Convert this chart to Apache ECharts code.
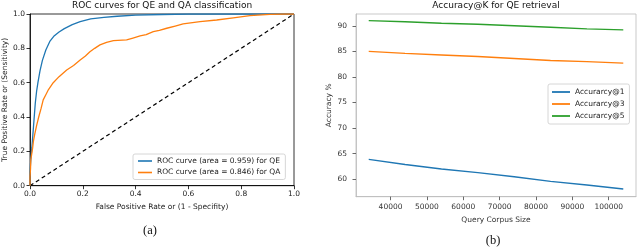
<!DOCTYPE html>
<html>
<head>
<meta charset="utf-8">
<script src="https://cdn.jsdelivr.net/npm/echarts@6/dist/echarts.min.js"></script>
<style>
html,body{margin:0;padding:0;background:#fff;}
#c{width:640px;height:250px;}
</style>
</head>
<body>
<div id="c"></div>
<script>
// ROC data (left panel)
const qeFpr = [0,0,0.003,0.007,0.011,0.015,0.02,0.025,0.03,0.038,0.047,0.06,0.075,0.09,0.11,0.13,0.16,0.19,0.23,0.28,0.33,0.4,0.5,0.6,1.0];
const qeTpr = [0,0.08,0.15,0.22,0.3,0.38,0.48,0.55,0.6,0.67,0.73,0.79,0.84,0.87,0.895,0.915,0.938,0.955,0.972,0.98,0.987,0.993,0.997,1.0,1.0];
const qaFpr = [0,0,0.002,0.003,0.006,0.01,0.013,0.018,0.025,0.033,0.042,0.05,0.06,0.07,0.088,0.11,0.139,0.165,0.19,0.21,0.227,0.245,0.265,0.29,0.316,0.366,0.39,0.417,0.44,0.467,0.49,0.518,0.55,0.58,0.644,0.707,0.77,0.833,0.909,0.96,1.0];
const qaTpr = [0,0.05,0.1,0.15,0.18,0.22,0.26,0.3,0.35,0.4,0.45,0.5,0.53,0.56,0.6,0.635,0.674,0.7,0.732,0.755,0.78,0.8,0.82,0.835,0.845,0.849,0.86,0.872,0.88,0.897,0.905,0.917,0.93,0.942,0.955,0.965,0.978,0.99,0.998,1.0,1.0];
const rocNames = ['ROC curve (area = 0.959) for QE', 'ROC curve (area = 0.846) for QA'];

// Accuracy@K data (right panel)
const corpusSize = [34000, 44000, 54000, 64000, 74000, 84000, 94000, 104000];
const acc1 = [63.9, 62.9, 62.0, 61.3, 60.5, 59.6, 58.9, 58.1];
const acc3 = [85.0, 84.6, 84.3, 84.0, 83.6, 83.2, 83.0, 82.7];
const acc5 = [91.0, 90.8, 90.5, 90.3, 90.0, 89.7, 89.4, 89.2];
const accNames = ['Accurarcy@1', 'Accurarcy@3', 'Accurarcy@5'];
const xTicksB = [40000, 50000, 60000, 70000, 80000, 90000, 100000];
const yTicksB = [60, 65, 70, 75, 80, 85, 90];

const zip = (a, b) => a.map((v, i) => [v, b[i]]);
const FONT = 'DejaVu Sans';
const C = ['#1f77b4', '#ff7f0e', '#2ca02c'];

const chart = echarts.init(document.getElementById('c'), null, {renderer: 'canvas'});
const tickStyle = {show: true, inside: false, length: 3.5, lineStyle: {color: '#000', width: 0.8}};
const labelStyle = {fontFamily: FONT, fontSize: 7.5, color: '#222'};

chart.setOption({
  animation: false,
  backgroundColor: '#fff',
  title: [
    {text: 'ROC curves for QE and QA classification', left: 162, top: 1, textAlign: 'center', padding: 0,
     textStyle: {fontFamily: FONT, fontSize: 9, fontWeight: 'normal', color: '#111'}},
    {text: 'Accuracy@K for QE retrieval', left: 496, top: 1, textAlign: 'center', padding: 0,
     textStyle: {fontFamily: FONT, fontSize: 9, fontWeight: 'normal', color: '#111'}},
    {text: '(a)', left: 150, top: 224, textAlign: 'center', padding: 0,
     textStyle: {fontFamily: 'Liberation Serif', fontSize: 12.5, fontWeight: 'normal', color: '#111'}},
    {text: '(b)', left: 493, top: 234, textAlign: 'center', padding: 0,
     textStyle: {fontFamily: 'Liberation Serif', fontSize: 12.5, fontWeight: 'normal', color: '#111'}}
  ],
  legend: [
    {data: rocNames, orient: 'vertical', left: 133, top: 154, padding: [3, 5, 3, 5], itemGap: 3.5,
     itemWidth: 14, itemHeight: 1.6, icon: 'rect', borderColor: '#ccc', borderWidth: 0.8, borderRadius: 2,
     backgroundColor: 'rgba(255,255,255,0.8)', textStyle: {fontFamily: FONT, fontSize: 7.5, color: '#222'}},
    {data: accNames, orient: 'vertical', left: 548, top: 84, padding: [4, 5, 4, 4], itemGap: 4,
     itemWidth: 18, itemHeight: 1.8, icon: 'rect', borderColor: '#ccc', borderWidth: 0.8, borderRadius: 2,
     backgroundColor: 'rgba(255,255,255,0.8)', textStyle: {fontFamily: FONT, fontSize: 7.5, color: '#222'}}
  ],
  grid: [
    {left: 30, top: 14, width: 264, height: 171.7, show: true, borderColor: '#000', borderWidth: 0.8, containLabel: false},
    {left: 356, top: 14, width: 280, height: 182.7, show: true, borderColor: '#bbb', borderWidth: 0.8, containLabel: false}
  ],
  xAxis: [
    {type: 'value', gridIndex: 0, min: 0, max: 1, interval: 0.2,
     name: 'False Positive Rate or (1 - Specifity)', nameLocation: 'middle', nameGap: 15,
     nameTextStyle: {fontFamily: FONT, fontSize: 7.5, color: '#222'},
     axisLine: {show: true, lineStyle: {color: '#000', width: 0.8}}, axisTick: tickStyle,
     axisLabel: Object.assign({margin: 4, formatter: v => v.toFixed(1)}, labelStyle), splitLine: {show: false}},
    {type: 'value', gridIndex: 1, min: 30500, max: 107500,
     name: 'Query Corpus Size', nameLocation: 'middle', nameGap: 17,
     nameTextStyle: {fontFamily: FONT, fontSize: 7.5, color: '#333'},
     axisLine: {show: true, onZero: false, lineStyle: {color: '#bbb', width: 0.8}},
     axisTick: {show: true, length: 3.5, customValues: xTicksB, lineStyle: {color: '#444', width: 0.8}},
     axisLabel: Object.assign({margin: 6, customValues: xTicksB, formatter: v => String(v)}, labelStyle, {color: '#333'}),
     splitLine: {show: false}}
  ],
  yAxis: [
    {type: 'value', gridIndex: 0, min: 0, max: 1, interval: 0.2,
     name: 'True Positive Rate or (Sensitivity)', nameLocation: 'middle', nameGap: 20, nameRotate: 90,
     nameTextStyle: {fontFamily: FONT, fontSize: 7.5, color: '#222'},
     axisLine: {show: true, lineStyle: {color: '#000', width: 0.8}}, axisTick: tickStyle,
     axisLabel: Object.assign({margin: 5, formatter: v => v.toFixed(1)}, labelStyle), splitLine: {show: false}},
    {type: 'value', gridIndex: 1, min: 56.6, max: 92.3,
     name: 'Accuracy %', nameLocation: 'middle', nameGap: 23, nameRotate: 90,
     nameTextStyle: {fontFamily: FONT, fontSize: 7.5, color: '#333'},
     axisLine: {show: true, onZero: false, lineStyle: {color: '#bbb', width: 0.8}},
     axisTick: {show: true, length: 3.5, customValues: yTicksB, lineStyle: {color: '#444', width: 0.8}},
     axisLabel: Object.assign({margin: 9, customValues: yTicksB, formatter: v => String(v)}, labelStyle, {color: '#333'}),
     splitLine: {show: false}}
  ],
  series: [
    {name: rocNames[0], type: 'line', xAxisIndex: 0, yAxisIndex: 0, data: zip(qeFpr, qeTpr), showSymbol: false, symbol: 'none',
     lineStyle: {color: C[0], width: 1.3}, itemStyle: {color: C[0]}, z: 3},
    {name: rocNames[1], type: 'line', xAxisIndex: 0, yAxisIndex: 0, data: zip(qaFpr, qaTpr), showSymbol: false, symbol: 'none',
     lineStyle: {color: C[1], width: 1.3}, itemStyle: {color: C[1]}, z: 3},
    {name: 'chance', type: 'line', xAxisIndex: 0, yAxisIndex: 0, data: [[0, 0], [1, 1]], showSymbol: false, symbol: 'none',
     lineStyle: {color: '#000', width: 1.2, type: [4, 3]}, z: 2},
    {name: accNames[0], type: 'line', xAxisIndex: 1, yAxisIndex: 1, data: zip(corpusSize, acc1), showSymbol: false, symbol: 'none',
     lineStyle: {color: C[0], width: 1.4}, itemStyle: {color: C[0]}},
    {name: accNames[1], type: 'line', xAxisIndex: 1, yAxisIndex: 1, data: zip(corpusSize, acc3), showSymbol: false, symbol: 'none',
     lineStyle: {color: C[1], width: 1.4}, itemStyle: {color: C[1]}},
    {name: accNames[2], type: 'line', xAxisIndex: 1, yAxisIndex: 1, data: zip(corpusSize, acc5), showSymbol: false, symbol: 'none',
     lineStyle: {color: C[2], width: 1.4}, itemStyle: {color: C[2]}}
  ]
});
</script>
</body>
</html>
